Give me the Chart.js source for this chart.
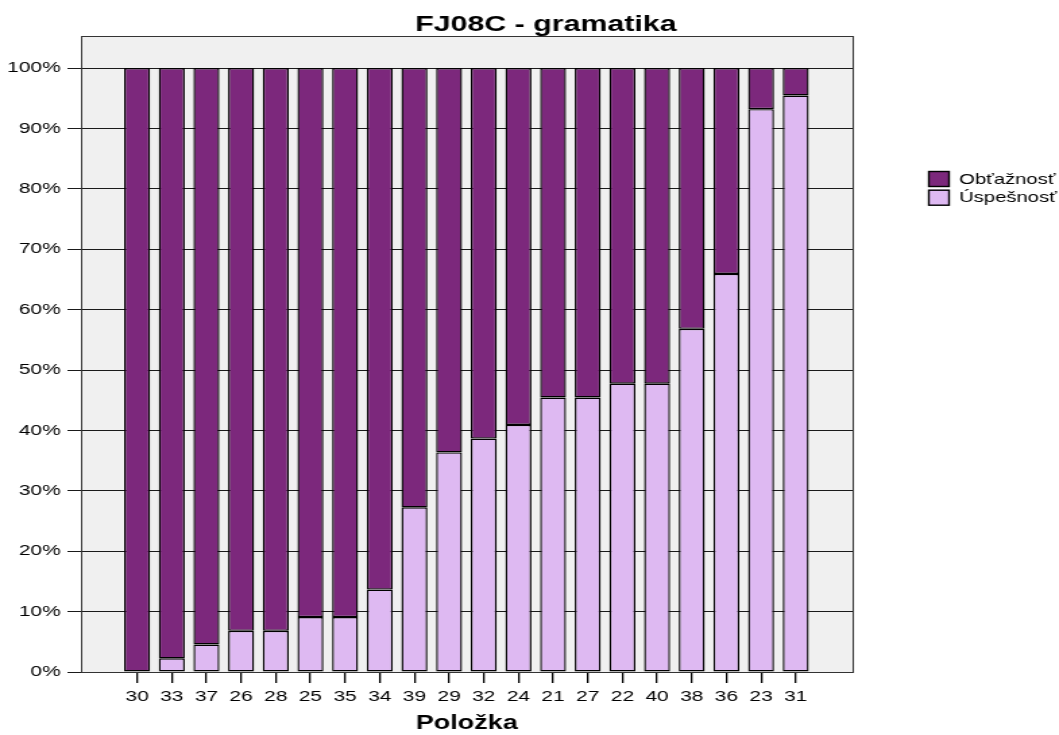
<!DOCTYPE html>
<html>
<head>
<meta charset="utf-8">
<script src="https://cdn.jsdelivr.net/npm/chart.js@4/dist/chart.umd.min.js"></script>
<style>
  html, body { margin: 0; padding: 0; background: #ffffff; overflow: hidden; }
  #c { display: block; width: 785px; height: 735px; transform: scaleX(1.349); transform-origin: 0 0; }
</style>
</head>
<body>
<canvas id="c" width="785" height="735"></canvas>
<script>
const chartTitle = 'FJ08C - gramatika';
const xAxisTitle = 'Položka';
const categories = ['30','33','37','26','28','25','35','34','39','29','32','24','21','27','22','40','38','36','23','31'];
const uspesnost = [0, 2.27, 4.55, 6.82, 6.82, 9.09, 9.09, 13.64, 27.27, 36.36, 38.64, 40.91, 45.45, 45.45, 47.73, 47.73, 56.82, 65.91, 93.18, 95.45];
const obtaznost = [100, 97.73, 95.45, 93.18, 93.18, 90.91, 90.91, 86.36, 72.73, 63.64, 61.36, 59.09, 54.55, 54.55, 52.27, 52.27, 43.18, 34.09, 6.82, 4.55];
const yTicks = [0, 10, 20, 30, 40, 50, 60, 70, 80, 90, 100];
const seriesNames = ['Úspešnosť', 'Obťažnosť'];

const FONT = "'Liberation Sans', Arial, sans-serif";
const DARK = '#7C287C';
const LIGHT = '#DEB9F2';

const framePlugin = {
  id: 'frame',
  beforeDraw(chart) {
    const {ctx, chartArea: a} = chart;
    ctx.save();
    ctx.fillStyle = '#F0F0F0';
    ctx.fillRect(a.left, a.top, a.right - a.left, a.bottom - a.top);
    ctx.restore();
  },
  afterDatasetsDraw(chart) {
    const {ctx, chartArea: a} = chart;
    ctx.save();
    ctx.strokeStyle = '#333333';
    ctx.lineWidth = 1;
    ctx.strokeRect(Math.round(a.left) + 0.5, Math.round(a.top) + 0.5, Math.round(a.right - a.left), Math.round(a.bottom - a.top));
    ctx.restore();
  },
  afterDraw(chart) {
    const {ctx} = chart;
    ctx.save();
    ctx.fillStyle = '#000';
    ctx.font = "bold 22.5px " + FONT;
    ctx.textAlign = 'center';
    ctx.textBaseline = 'alphabetic';
    ctx.fillText(chartTitle, 404.7, 31);
    const ds = chart.data.datasets.slice().reverse();
    ctx.font = "15px " + FONT;
    ctx.textAlign = 'left';
    ctx.textBaseline = 'middle';
    ds.forEach((d, i) => {
      const y = 171 + i * 18.7;
      ctx.fillStyle = d.backgroundColor;
      ctx.fillRect(688, y, 16, 16);
      ctx.strokeStyle = '#000';
      ctx.lineWidth = 1.4;
      ctx.strokeRect(688.5, y + 0.5, 15, 15);
      ctx.fillStyle = '#000';
      ctx.fillText(d.label, 711, y + 8.5);
    });
    ctx.restore();
  }
};

new Chart(document.getElementById('c'), {
  type: 'bar',
  data: {
    datasets: [
      {
        label: seriesNames[0],
        data: uspesnost.map((v, i) => ({x: i, y: v})),
        backgroundColor: LIGHT,
        borderColor: '#000',
        borderWidth: 1.4,
        borderSkipped: false
      },
      {
        label: seriesNames[1],
        data: obtaznost.map((v, i) => ({x: i, y: v})),
        backgroundColor: DARK,
        borderColor: '#000',
        borderWidth: 1.4,
        borderSkipped: false
      }
    ]
  },
  options: {
    responsive: false,
    animation: false,
    devicePixelRatio: 1,
    layout: { padding: { top: 36, right: 153, left: 0, bottom: 0 } },
    datasets: { bar: { categoryPercentage: 1, barPercentage: 0.75 } },
    plugins: {
      legend: { display: false },
      title: { display: false },
      tooltip: { enabled: false }
    },
    scales: {
      x: {
        type: 'linear',
        stacked: true,
        offset: false,
        min: -1.62,
        max: 20.64,
        afterBuildTicks(scale) { scale.ticks = categories.map((c, i) => ({value: i})); },
        afterFit(scale) { scale.height = 63; },
        ticks: {
          autoSkip: false,
          maxRotation: 0,
          padding: 4,
          color: '#000',
          font: { family: FONT, size: 15.5 },
          callback: (v, i) => categories[i]
        },
        grid: { offset: false, drawOnChartArea: false, drawTicks: true, tickLength: 11, color: '#000', lineWidth: 1.3 },
        border: { display: false },
        title: {
          display: true,
          text: xAxisTitle,
          color: '#000',
          font: { family: FONT, size: 20, weight: 'bold' },
          padding: { top: 0, bottom: 0 }
        }
      },
      y: {
        stacked: true,
        min: 0,
        max: 105.3,
        afterBuildTicks(scale) { scale.ticks = yTicks.map(v => ({value: v})); },
        afterFit(scale) { scale.width = 60; },
        ticks: {
          padding: 5,
          color: '#000',
          font: { family: FONT, size: 15.5 },
          callback: (v) => v + '%'
        },
        grid: { color: '#1a1a1a', lineWidth: 1, tickLength: 10, drawTicks: true },
        border: { display: false }
      }
    }
  },
  plugins: [framePlugin]
});
</script>
</body>
</html>
